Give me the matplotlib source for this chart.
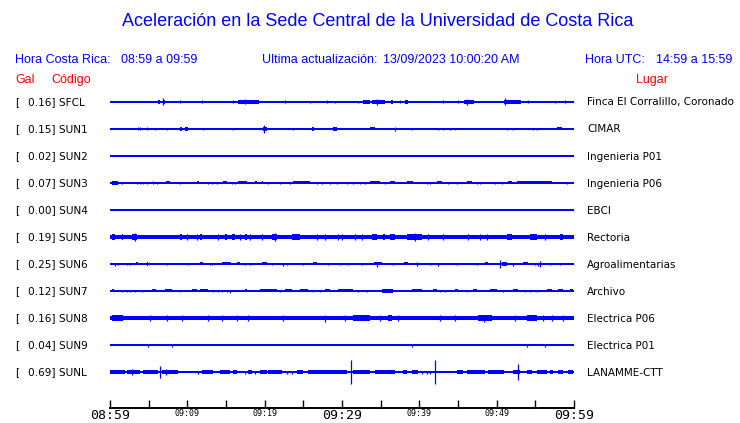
# -*- coding: utf-8 -*-
# Acceleration traces, Sede Central UCR (1 hour window)
import matplotlib
matplotlib.use('Agg')
import matplotlib.pyplot as plt

# station data
codes = ['SFCL', 'SUN1', 'SUN2', 'SUN3', 'SUN4', 'SUN5', 'SUN6', 'SUN7', 'SUN8', 'SUN9', 'SUNL']
gal = [0.16, 0.15, 0.02, 0.07, 0.00, 0.19, 0.25, 0.12, 0.16, 0.04, 0.69]
places = ['Finca El Corralillo, Coronado', 'CIMAR', 'Ingenieria P01', 'Ingenieria P06', 'EBCI',
          'Rectoria', 'Agroalimentarias', 'Archivo', 'Electrica P06', 'Electrica P01', 'LANAMME-CTT']

# quiet level of each trace (relative amplitude)
base_amp = [1, 1, 1, 1, 1, 2, 1, 1, 2, 1, 1]

# bursts: (start minute, end minute, amplitude)
ev_SFCL = [(6.2, 6.5, 2), (6.85, 6.85, 3.5), (6.9, 7.1, 2), (9.05, 9.05, 1.5), (11.9, 11.9, 1.5),
           (15.9, 15.9, 1.5), (16.5, 19.3, 1.8), (17.5, 17.5, 2.5), (22.6, 22.6, 1.5), (25.9, 25.9, 1),
           (28.1, 28.1, 1.5), (29.1, 29.1, 1), (32.1, 32.1, 1), (32.7, 33.6, 2), (33.9, 35.6, 2),
           (34.5, 34.5, 3), (36.4, 36.6, 2), (37.5, 37.5, 1.5), (38.1, 38.5, 2), (43.1, 43.1, 1.5),
           (45.0, 45.0, 1.5), (45.8, 47.1, 2), (46.2, 46.2, 3), (51.0, 53.1, 2), (51.1, 51.1, 3.5),
           (54.1, 54.1, 1.5), (57.5, 57.5, 1), (58.8, 58.8, 1.5)]
ev_SUN1 = [(3.6, 3.6, 1.5), (3.9, 3.9, 1.5), (4.8, 4.8, 1.5), (5.8, 5.8, 1.2), (7.4, 7.4, 1.2),
           (9.0, 9.3, 1.8), (9.7, 10.1, 1.8), (12.0, 12.0, 1.2), (15.9, 15.9, 1.2), (19.8, 20.3, 1.8),
           (19.9, 19.9, 3.7), (23.7, 23.7, 1.2), (26.1, 26.4, 1.8), (28.8, 29.4, 1.8), (33.6, 34.3, 1.5),
           (36.8, 36.8, 1.8), (39.1, 39.1, 1.2), (42.4, 42.4, 1.2), (43.1, 43.1, 1.2), (44.0, 44.0, 1.2),
           (44.6, 44.6, 1.2), (47.8, 48.5, 1.2), (51.4, 51.4, 1.2), (52.1, 52.1, 1.2), (54.7, 54.7, 1.2),
           (55.2, 55.2, 1.2), (57.8, 58.4, 1.5)]
ev_SUN2 = []
ev_SUN3 = [(0.3, 1.0, 1.8), (1.5, 1.5, 1.2), (3.5, 3.5, 1.2), (3.9, 3.9, 1.2), (4.3, 4.3, 1.2),
           (4.8, 4.8, 1.2), (5.5, 5.5, 1.5), (6.1, 6.1, 1.2), (7.3, 7.8, 1.5), (9.1, 9.1, 1.2),
           (11.2, 11.5, 1.5), (12.7, 12.7, 1.2), (13.2, 13.2, 1.2), (13.8, 13.8, 1.2), (14.6, 15.1, 1.5),
           (15.8, 15.8, 1.2), (16.2, 16.2, 1.2), (16.6, 17.7, 1.5), (18.7, 19.0, 1.5), (19.7, 19.8, 1.5),
           (20.4, 20.4, 1.2), (22.0, 22.0, 1.2), (23.3, 23.3, 1.2), (23.7, 25.9, 1.5), (26.8, 26.8, 1.2),
           (27.4, 27.4, 1.2), (28.5, 28.5, 1.2), (29.4, 29.4, 1.2), (30.7, 30.7, 1.2), (31.4, 31.4, 1.2),
           (32.3, 32.3, 1.2), (33.0, 33.0, 1.2), (33.6, 34.9, 1.5), (35.6, 35.6, 1.2), (36.2, 36.9, 1.5),
           (38.4, 39.2, 1.5), (41.0, 41.0, 1.2), (41.4, 41.4, 1.2), (42.3, 42.9, 1.5), (43.7, 43.7, 1.2),
           (44.9, 44.9, 1.2), (46.2, 46.8, 1.5), (47.5, 47.5, 1.2), (47.8, 47.8, 1.2), (49.8, 49.8, 1.2),
           (50.7, 50.7, 1.2), (51.5, 52.0, 1.5), (52.6, 57.2, 1.5), (57.8, 58.5, 1.2), (59.1, 59.1, 1.2)]
ev_SUN4 = []
ev_SUN5 = [(0.3, 0.6, 3), (1.5, 1.7, 3.2), (2.8, 3.5, 3), (3.2, 3.2, 4), (9.0, 9.3, 3),
           (10.0, 10.0, 3), (11.3, 11.3, 3), (11.6, 11.9, 3.2), (14.0, 14.0, 3), (14.9, 15.1, 3),
           (15.8, 16.2, 3), (16.8, 16.8, 3), (17.5, 17.7, 3.2), (18.1, 18.1, 3), (19.7, 19.7, 3),
           (21.0, 21.6, 3.2), (21.3, 21.3, 4), (23.5, 24.6, 3.2), (26.8, 26.8, 3), (27.8, 27.8, 3),
           (29.5, 29.5, 3), (30.0, 30.0, 3), (31.7, 31.7, 3), (32.6, 32.6, 3), (33.9, 34.5, 3),
           (35.3, 35.6, 3), (36.2, 36.9, 3), (38.4, 40.3, 3.2), (39.5, 39.5, 4), (41.1, 41.1, 3),
           (43.1, 43.1, 3), (46.3, 46.3, 3), (47.8, 47.8, 3), (48.8, 48.8, 3), (51.3, 52.0, 3.2),
           (54.3, 55.2, 3.2), (56.2, 56.2, 3), (58.2, 58.6, 3)]
ev_SUN6 = [(0.65, 0.65, 1.5), (1.0, 1.0, 1.2), (2.2, 2.2, 1.2), (2.6, 2.6, 1.2), (3.4, 3.6, 1.5),
           (4.8, 4.9, 2), (7.4, 7.4, 1.2), (10.1, 10.1, 1.2), (11.6, 12.0, 1.5), (12.9, 12.9, 1.2),
           (13.2, 13.2, 1.2), (14.5, 15.7, 1.5), (16.4, 16.8, 1.5), (17.5, 17.5, 1.2), (18.1, 18.1, 1.2),
           (19.6, 20.3, 1.5), (20.9, 20.9, 1.2), (22.4, 22.4, 1.5), (22.9, 22.9, 1.2), (25.0, 25.0, 1.2),
           (26.2, 26.8, 1.5), (28.2, 28.2, 1.2), (29.7, 29.7, 1.2), (30.8, 30.8, 1.2), (32.6, 32.6, 1.2),
           (34.2, 35.2, 1.5), (34.5, 34.5, 2.5), (36.6, 36.6, 1.2), (38.0, 38.5, 1.5), (39.7, 39.7, 2),
           (41.4, 41.4, 1.2), (42.4, 42.4, 1.5), (44.9, 44.9, 1.2), (47.5, 47.5, 1.2), (48.5, 48.9, 1.5),
           (50.4, 50.4, 4.3), (50.7, 51.3, 1.8), (52.1, 52.1, 1.5), (53.4, 54.1, 1.5), (55.0, 55.0, 1.2),
           (55.3, 55.3, 1.5), (55.6, 55.6, 3), (56.9, 56.9, 1.2), (58.2, 58.2, 1.2)]
ev_SUN7 = [(0.2, 0.5, 1.5), (1.5, 1.5, 1.2), (2.2, 2.2, 1.2), (2.6, 2.6, 1.2), (3.2, 3.2, 1.2),
           (4.1, 4.1, 1.2), (5.4, 5.9, 1.5), (7.1, 8.0, 1.5), (9.1, 9.1, 1.2), (10.6, 11.3, 1.5),
           (11.6, 12.7, 1.5), (13.3, 13.3, 1.2), (14.0, 14.0, 1.2), (14.5, 14.5, 1.2), (15.1, 15.1, 1.2),
           (15.5, 15.5, 1.5), (17.5, 17.7, 1.5), (19.4, 21.6, 1.5), (22.0, 22.0, 1.2), (22.6, 23.5, 1.5),
           (24.6, 25.6, 1.5), (26.2, 26.2, 1.2), (27.2, 27.2, 1.2), (27.8, 28.5, 1.5), (29.5, 31.4, 1.5),
           (32.1, 32.1, 1.2), (33.2, 33.2, 1.2), (35.2, 36.6, 1.8), (39.0, 40.3, 1.5), (41.8, 42.3, 1.5),
           (42.7, 42.7, 1.2), (43.3, 43.3, 1.2), (44.6, 45.0, 1.5), (46.2, 46.2, 1.2), (47.0, 47.5, 1.5),
           (49.1, 50.0, 1.5), (50.8, 50.8, 1.2), (52.1, 52.8, 1.5), (53.7, 53.7, 1.2), (54.3, 54.3, 1.2),
           (55.2, 55.2, 1.2), (56.5, 57.2, 1.5), (57.9, 58.6, 1.5), (59.5, 59.9, 1.5)]
ev_SUN8 = [(0.2, 1.7, 2.6), (5.2, 5.2, 3), (7.4, 7.4, 3), (9.3, 9.3, 3), (12.7, 12.7, 3), (14.5, 14.5, 3),
           (16.4, 16.4, 3), (17.9, 17.9, 3), (22.4, 22.4, 3), (27.8, 27.8, 3.5), (30.4, 30.4, 3),
           (31.4, 33.6, 2.5), (34.9, 34.9, 3), (35.9, 36.5, 2.8), (37.2, 37.2, 3), (42.7, 42.7, 3),
           (44.6, 44.6, 3), (47.6, 49.4, 2.6), (48.4, 48.4, 3.5), (52.4, 52.4, 3), (53.9, 55.2, 2.6),
           (56.0, 56.0, 3), (57.2, 57.2, 3), (58.6, 58.6, 3)]
ev_SUN9 = [(4.9, 4.9, 1.5), (8.0, 8.0, 1.5), (39.1, 39.1, 1.5), (53.9, 53.9, 1.5), (56.3, 56.3, 1.5)]
ev_SUNL = [(0.0, 1.9, 2), (2.2, 3.9, 2), (2.8, 2.8, 3), (4.3, 6.2, 2), (6.5, 6.5, 6.2), (6.7, 8.8, 2),
           (7.2, 7.2, 3), (11.4, 11.4, 1.5), (11.9, 13.3, 2), (14.2, 15.5, 2), (15.9, 16.4, 2),
           (17.5, 17.5, 1.5), (17.8, 18.4, 2), (18.8, 18.8, 1.5), (19.4, 20.3, 2), (20.4, 22.2, 2),
           (22.9, 22.9, 1.5), (23.5, 23.5, 1.5), (24.2, 24.9, 2), (25.6, 30.6, 2), (31.1, 31.1, 11.7),
           (31.4, 33.6, 2), (34.3, 36.9, 2), (37.9, 38.4, 2), (39.0, 39.8, 2), (40.3, 40.3, 1.5),
           (41.0, 41.0, 1.5), (41.4, 41.4, 1.5), (42.07, 42.07, 12), (44.9, 45.6, 2), (46.2, 48.5, 2),
           (48.9, 51.0, 2), (52.1, 53.0, 2), (52.8, 52.8, 8.3), (53.9, 54.6, 2), (55.2, 56.5, 2),
           (56.9, 57.3, 2), (57.9, 58.6, 2), (59.2, 59.9, 2)]
events = [ev_SFCL, ev_SUN1, ev_SUN2, ev_SUN3, ev_SUN4, ev_SUN5, ev_SUN6, ev_SUN7, ev_SUN8, ev_SUN9, ev_SUNL]

start_h, start_m = 8, 59
span = 60

W, H = 740, 423
fig = plt.figure(figsize=(W / 100, H / 100), dpi=100)

def fx(x):
    return x / W

def fy(y):
    return 1 - y / H

blue = '#0000ff'
sans = 'Liberation Sans'

# header
fig.text(fx(378), fy(22), 'Aceleración en la Sede Central de la Universidad de Costa Rica',
         color=blue, fontsize=13, family=sans, ha='center', va='center')
fig.text(fx(15), fy(60), 'Hora Costa Rica:', color=blue, fontsize=9, family=sans, va='center')
fig.text(fx(121), fy(60), '08:59 a 09:59', color=blue, fontsize=9, family=sans, va='center')
fig.text(fx(262), fy(60), 'Ultima actualización:', color=blue, fontsize=9, family=sans, va='center')
fig.text(fx(383), fy(60), '13/09/2023 10:00:20 AM', color=blue, fontsize=9, family=sans, va='center')
fig.text(fx(585), fy(60), 'Hora UTC:', color=blue, fontsize=9, family=sans, va='center')
fig.text(fx(656), fy(60), '14:59 a 15:59', color=blue, fontsize=9, family=sans, va='center')
fig.text(fx(15), fy(80), 'Gal', color='red', fontsize=9, family=sans, va='center')
fig.text(fx(51), fy(80), 'Código', color='red', fontsize=9, family=sans, va='center')
fig.text(fx(636), fy(80), 'Lugar', color='red', fontsize=9, family=sans, va='center')

# traces axes: one unit in y = 27 px between traces
ax = fig.add_axes([fx(110), fy(408), fx(574) - fx(110), (408 - 88) / H])
ax.set_xlim(0, span)
ax.set_ylim(-10 - 36 / 27, 14 / 27)
amp_scale = 1 / 27

for i, code in enumerate(codes):
    y0 = -i
    b = base_amp[i] * amp_scale
    ax.fill_between([0, span], y0 - b, y0 + b, color=blue, lw=0)
    for s, e, a in events[i]:
        a = a * amp_scale
        if e - s < 0.1:
            ax.vlines(s, y0 - a, y0 + a, color=blue, lw=0.9)
        else:
            ax.fill_between([s, e], y0 - a, y0 + a, color=blue, lw=0)
    # labels left and right
    yy = 102.5 + 27 * i
    fig.text(fx(15), fy(yy), '[', fontsize=7.6, va='center')
    fig.text(fx(28), fy(yy), '%.2f] %s' % (gal[i], code), fontsize=7.6, va='center')
    fig.text(fx(587), fy(yy), places[i], fontsize=7.5, va='center')

for sp in ['top', 'left', 'right']:
    ax.spines[sp].set_visible(False)
ax.spines['bottom'].set_linewidth(1.4)
ax.set_yticks([])

ticks = list(range(0, span + 1, 5))
labels = []
for m in ticks:
    if m % 10 == 0:
        t = start_h * 60 + start_m + m
        labels.append('%02d:%02d' % (t // 60, t % 60))
    else:
        labels.append('')
ax.set_xticks(ticks)
ax.set_xticklabels(labels, family='DejaVu Sans Mono')
ax.tick_params(axis='x', direction='in', length=6, width=1, pad=1)
for m, lab in zip(ticks, ax.get_xticklabels()):
    lab.set_fontsize(9.5 if m % 30 == 0 else 6)

fig.savefig('out.png', dpi=100)
